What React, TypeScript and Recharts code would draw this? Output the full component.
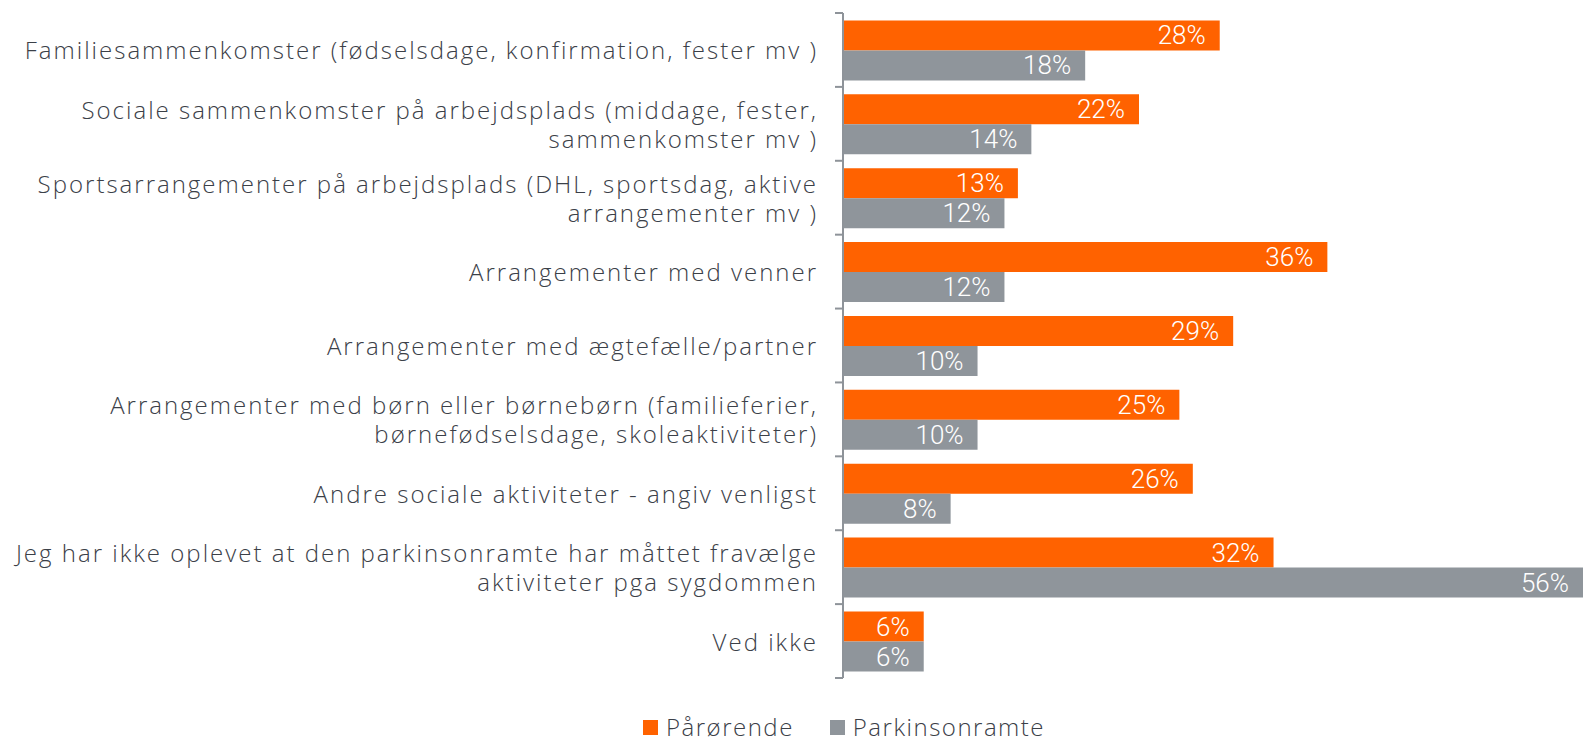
import React from 'react';
import { BarChart, Bar, XAxis, YAxis, LabelList } from 'recharts';

const categories = [
  'Familiesammenkomster (fødselsdage, konfirmation, fester mv )',
  'Sociale sammenkomster på arbejdsplads (middage, fester,\nsammenkomster mv )',
  'Sportsarrangementer på arbejdsplads (DHL, sportsdag, aktive\narrangementer mv )',
  'Arrangementer med venner',
  'Arrangementer med ægtefælle/partner',
  'Arrangementer med børn eller børnebørn (familieferier,\nbørnefødselsdage, skoleaktiviteter)',
  'Andre sociale aktiviteter - angiv venligst',
  'Jeg har ikke oplevet at den parkinsonramte har måttet fravælge\naktiviteter pga  sygdommen',
  'Ved ikke',
];
const paaroerende = [28, 22, 13, 36, 29, 25, 26, 32, 6];
const parkinsonramte = [18, 14, 12, 12, 10, 10, 8, 56, 6];

const SERIES = [
  { key: 'paaroerende', name: 'Pårørende', color: '#FF6200' },
  { key: 'parkinsonramte', name: 'Parkinsonramte', color: '#8F959B' },
];

const data = categories.map((c, i) => ({
  name: c,
  paaroerende: paaroerende[i],
  parkinsonramte: parkinsonramte[i],
}));

const W = 1583;
const H = 741;
const TOP = 13;
const BOTTOM = 63;
const AXIS_X = 843;
const BAND = (H - TOP - BOTTOM) / categories.length;
const AXIS_COLOR = '#8E9399';
const TEXT_COLOR = '#3B4048';
const FONT = '"Open Sans", sans-serif';

const CategoryTick = (props: any) => {
  const { y, payload, index } = props;
  const lines = String(payload.value).split('\n');
  const lh = 29;
  const start = y - ((lines.length - 1) * lh) / 2;
  return (
    <g>
      <line x1={AXIS_X - 8} x2={AXIS_X} y1={y - BAND / 2} y2={y - BAND / 2} stroke={AXIS_COLOR} strokeWidth={2} />
      {index === categories.length - 1 && (
        <line x1={AXIS_X - 8} x2={AXIS_X} y1={y + BAND / 2} y2={y + BAND / 2} stroke={AXIS_COLOR} strokeWidth={2} />
      )}
      <text
        x={AXIS_X - 25}
        y={start}
        textAnchor="end"
        fill={TEXT_COLOR}
        style={{ fontFamily: FONT, fontWeight: 300, fontSize: 24, letterSpacing: 2 }}
      >
        {lines.map((l, i) => (
          <tspan key={i} x={AXIS_X - 25} y={start + i * lh} dominantBaseline="central">
            {l}
          </tspan>
        ))}
      </text>
    </g>
  );
};

// value label at the bar end, kept inside the visible plot when a bar runs past it
const ValueLabel = (props: any) => {
  const { x, y, width, height, value } = props;
  const right = Math.min(Number(x) + Number(width), W);
  return (
    <text
      x={right - 14}
      y={Number(y) + Number(height) / 2}
      textAnchor="end"
      dominantBaseline="central"
      fill="#fff"
      style={{ fontFamily: 'Roboto, sans-serif', fontWeight: 300, fontSize: 26 }}
    >
      {`${value}%`}
    </text>
  );
};

export default function App() {
  return (
    <div style={{ position: 'absolute', left: 0, top: 0, width: W, height: H, background: '#fff', overflow: 'hidden' }}>
      <BarChart
        width={W}
        height={H}
        data={data}
        layout="vertical"
        margin={{ top: TOP, right: 0, left: 0, bottom: BOTTOM }}
        barCategoryGap="10%"
        barGap={0}
      >
        <XAxis type="number" domain={[0, 55]} allowDataOverflow hide />
        <YAxis
          type="category"
          dataKey="name"
          width={AXIS_X}
          axisLine={{ stroke: AXIS_COLOR, strokeWidth: 2 }}
          tickLine={false}
          tick={<CategoryTick />}
          interval={0}
        />
        {SERIES.map((s) => (
          <Bar key={s.key} dataKey={s.key} name={s.name} fill={s.color} isAnimationActive={false}>
            <LabelList dataKey={s.key} content={<ValueLabel />} />
          </Bar>
        ))}
      </BarChart>
      <div style={{ position: 'absolute', left: 643, top: 713, display: 'flex', alignItems: 'center' }}>
        {SERIES.map((s, i) => (
          <div key={s.key} style={{ display: 'flex', alignItems: 'center', marginRight: i === 0 ? 36 : 0 }}>
            <span style={{ width: 15, height: 15, background: s.color, display: 'inline-block', marginRight: 8 }} />
            <span style={{ fontFamily: FONT, fontWeight: 300, fontSize: 24, letterSpacing: 1.5, color: TEXT_COLOR, lineHeight: '28px', whiteSpace: 'nowrap' }}>
              {s.name}
            </span>
          </div>
        ))}
      </div>
    </div>
  );
}
